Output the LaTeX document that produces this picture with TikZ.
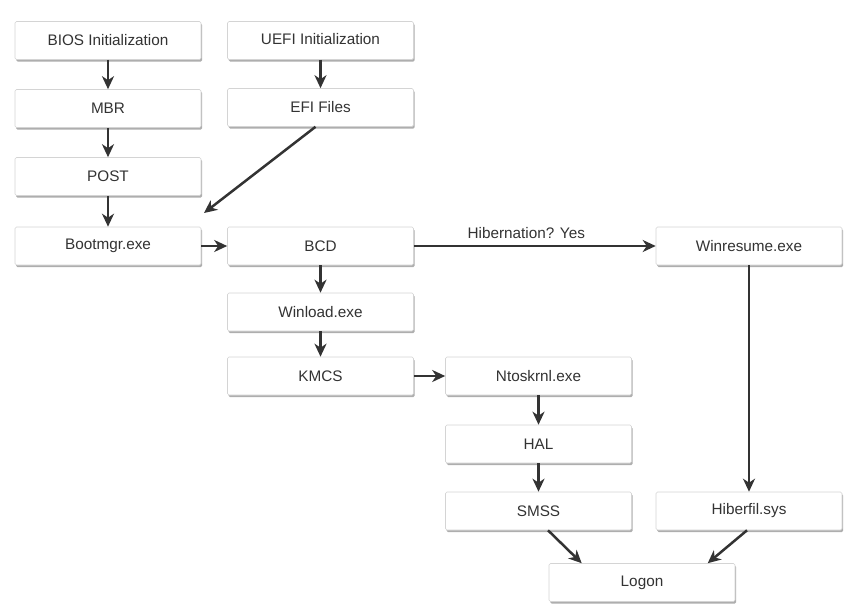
\documentclass[tikz,border=0pt]{standalone}
\usepackage{fontspec}
\setmainfont{Liberation Sans}
\usetikzlibrary{arrows.meta,shadows,calc}
\definecolor{ink}{HTML}{333333}
\definecolor{edge}{HTML}{D4D4D4}
\begin{document}
\begin{tikzpicture}[x=1pt,y=-1pt,
  stage/.style={draw=edge, line width=0.6pt, fill=white, rounded corners=1.5pt,
    minimum width=186pt, minimum height=38pt, inner sep=0pt,
    font=\fontsize{15.3}{17}\selectfont, text=ink,
    drop shadow={shadow xshift=1.2pt, shadow yshift=-2.2pt, opacity=0.45, fill=black!70}},
  flow/.style={draw=ink, line width=2.5pt,
    -{Stealth[length=13pt,width=12pt,inset=4pt]}, shorten >=0pt}]
\useasboundingbox (0,0) rectangle (858,610);

% column 1: legacy BIOS path
\node[stage] (bios) at (108,40.5) {BIOS Initialization};
\node[stage] (mbr)  at (108,108.5) {MBR};
\node[stage] (post) at (108,176.5) {POST};
\node[stage] (bootmgr) at (108,246) {Bootmgr.exe};

% column 2: UEFI path and loader
\node[stage] (uefi) at (320.5,40.5) {\raisebox{4pt}{UEFI Initialization}};
\node[stage] (efi)  at (320.5,107.5) {EFI Files};
\node[stage] (bcd)  at (320.5,246) {BCD};
\node[stage] (winload) at (320.5,312) {Winload.exe};
\node[stage] (kmcs) at (320.5,376) {KMCS};

% column 3: kernel
\node[stage] (ntos) at (538.5,376) {Ntoskrnl.exe};
\node[stage] (hal)  at (538.5,444) {HAL};
\node[stage] (smss) at (538.5,511) {SMSS};

% column 4: resume from hibernation
\node[stage] (winresume) at (749,246) {Winresume.exe};
\node[stage] (hiberfil)  at (749,511) {Hiberfil.sys};

\node[stage] (logon) at (642,582.5) {Logon};

\coordinate (bmtarget) at (204,213);

\draw[flow] (bios) -- (mbr);
\draw[flow] (mbr) -- (post);
\draw[flow] (post) -- (bootmgr);
\draw[flow] (uefi) -- (efi);
\draw[flow] ($(efi.south)+(-5,0)$) -- (bmtarget);
\draw[flow] (bootmgr) -- (bcd);
\draw[flow] (bcd) -- node[pos=0.465, above=3pt, font=\fontsize{15.3}{17}\selectfont, text=ink] (hiblabel) {Hibernation? Yes} (winresume);
\draw[flow] (bcd) -- (winload);
\draw[flow] (winload) -- (kmcs);
\draw[flow] (kmcs) -- (ntos);
\draw[flow] (ntos) -- (hal);
\draw[flow] (hal) -- (smss);
\draw[flow] (winresume) -- (hiberfil);
\draw[flow] ($(smss.south)+(9.5,0)$) -- ($(logon.north west)+(33,0)$);
\draw[flow] ($(hiberfil.south)+(-2,0)$) -- ($(logon.north west)+(159,0)$);
\end{tikzpicture}
\end{document}
